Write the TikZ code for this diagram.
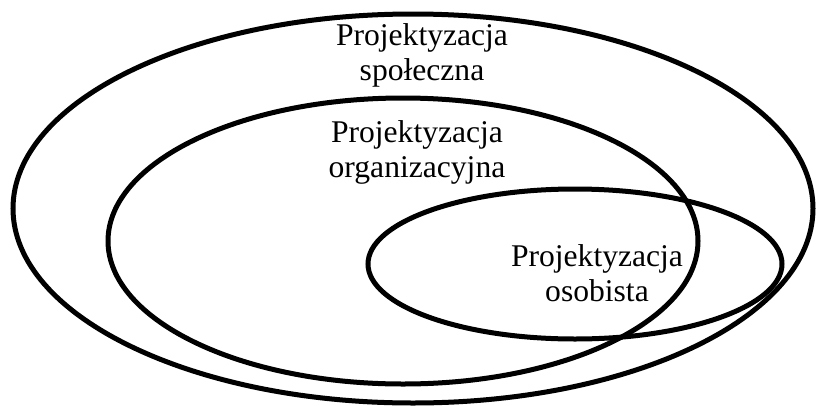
\documentclass[tikz,border=0pt]{standalone}
\usepackage{fontspec}
\setmainfont{Liberation Serif}
\usepackage{tikz}
\usetikzlibrary{positioning}

\begin{document}
\begin{tikzpicture}[x=1pt, y=-1pt, font=\fontsize{31.6}{35}\selectfont, line width=5pt]
  \useasboundingbox (0,0) rectangle (817,405);
  % ellipses
  \draw (413,208.5) ellipse (400 and 194.5);
  \draw (403,241) ellipse (295 and 143);
  \draw (575,264) ellipse (207 and 75);
  % labels
  \node (spol) [align=center, inner sep=0pt] at (422,55) {Projektyzacja\\społeczna};
  \node (org) [align=center, inner sep=0pt] at (417,152) {Projektyzacja\\organizacyjna};
  \node (osob) [align=center, inner sep=0pt] at (597,273) {Projektyzacja\\osobista};
\end{tikzpicture}
\end{document}
